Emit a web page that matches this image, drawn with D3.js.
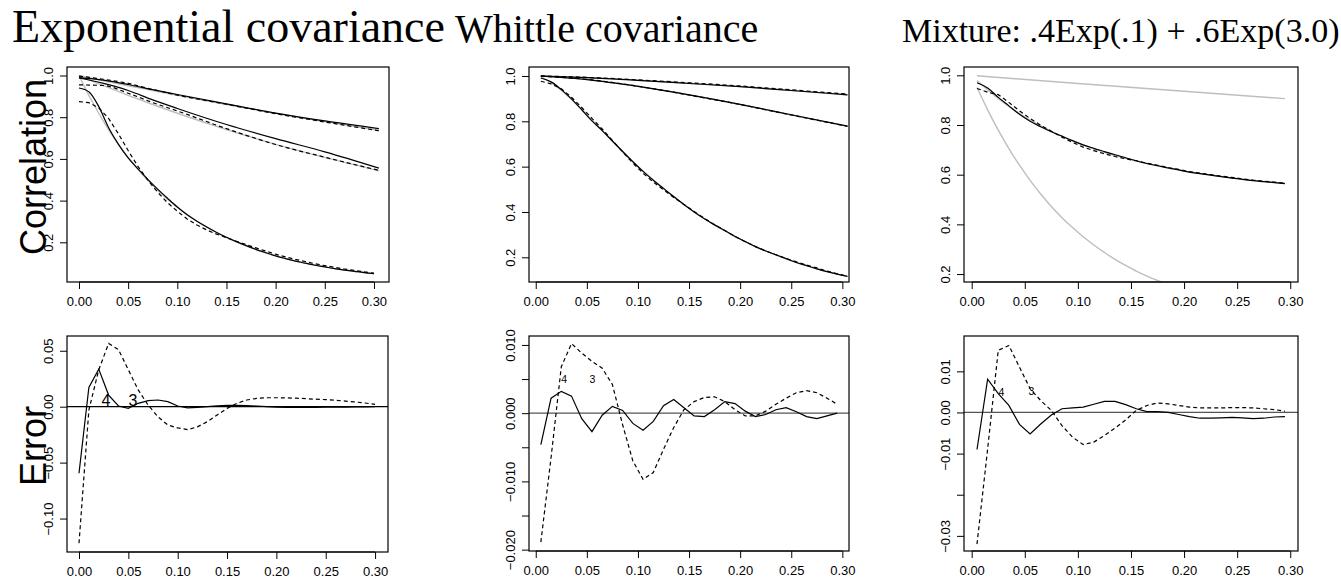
<!DOCTYPE html>
<html>
<head>
<meta charset="utf-8">
<script src="https://cdn.jsdelivr.net/npm/d3@7"></script>
<style>
  body { margin: 0; background: #fff; }
  svg { display: block; }
  .tick text { font-family: "Liberation Sans", Arial, sans-serif; font-size: 13px; fill: #000; }
</style>
</head>
<body>
<svg id="chart" width="1341" height="580"></svg>
<script>
// lag grids
const lagsFine = [0, 0.01, 0.02, 0.03, 0.04, 0.05, 0.06, 0.07, 0.08, 0.09, 0.10, 0.11, 0.12, 0.13, 0.14, 0.15,
                  0.16, 0.17, 0.18, 0.19, 0.20, 0.21, 0.22, 0.23, 0.24, 0.25, 0.26, 0.27, 0.28, 0.29, 0.30];
const lagsMid = [0.005, 0.015, 0.025, 0.035, 0.045, 0.055, 0.065, 0.075, 0.085, 0.095, 0.105, 0.115, 0.125, 0.135, 0.145,
                 0.155, 0.165, 0.175, 0.185, 0.195, 0.205, 0.215, 0.225, 0.235, 0.245, 0.255, 0.265, 0.275, 0.285, 0.295];
const lagsWhittle = [0.005, 0.015, 0.025, 0.035, 0.045, 0.055, 0.065, 0.075, 0.085, 0.095, 0.105, 0.115, 0.125, 0.135, 0.145,
                     0.155, 0.165, 0.175, 0.185, 0.195, 0.205, 0.215, 0.225, 0.235, 0.245, 0.255, 0.265, 0.275, 0.285, 0.295, 0.305];
const lagsCoarse = [0, 0.025, 0.05, 0.075, 0.10, 0.15, 0.20, 0.25, 0.305];
const lagsWCoarse = [0.005, 0.05, 0.10, 0.15, 0.20, 0.25, 0.305];
const lagsGrayTop = [0.005, 0.10, 0.20, 0.295];
const lagsGrayLow = [0.005, 0.015, 0.025, 0.035, 0.045, 0.055, 0.065, 0.075, 0.085, 0.095, 0.105, 0.115, 0.125,
                     0.135, 0.145, 0.155, 0.165, 0.175, 0.185];

// exponential covariance (top left)
const expTrue01 = [1, 0.905, 0.819, 0.741, 0.670, 0.607, 0.549, 0.497, 0.449, 0.407, 0.368, 0.333, 0.301, 0.273, 0.247, 0.223,
                   0.202, 0.183, 0.165, 0.150, 0.135, 0.123, 0.111, 0.100, 0.091, 0.082, 0.074, 0.067, 0.061, 0.055, 0.050];
const expFit01 = [0.940, 0.922, 0.852, 0.751, 0.671, 0.605, 0.552, 0.502, 0.455, 0.411, 0.369, 0.332, 0.301, 0.273, 0.247, 0.224,
                  0.203, 0.184, 0.166, 0.150, 0.135, 0.122, 0.110, 0.100, 0.090, 0.082, 0.074, 0.067, 0.061, 0.055, 0.050];
const expEst01 = [0.875, 0.870, 0.845, 0.795, 0.721, 0.640, 0.564, 0.498, 0.440, 0.390, 0.349, 0.312, 0.283, 0.259, 0.239, 0.222,
                  0.205, 0.189, 0.173, 0.158, 0.143, 0.130, 0.118, 0.108, 0.097, 0.088, 0.080, 0.072, 0.065, 0.058, 0.052];
const expTrue1 = [1, 0.975, 0.951, 0.928, 0.905, 0.861, 0.819, 0.779, 0.737];
const expFit1 = [0.990, 0.978, 0.957, 0.932, 0.909, 0.864, 0.820, 0.782, 0.745];
const expEst1 = [0.997, 0.982, 0.962, 0.933, 0.906, 0.862, 0.817, 0.777, 0.735];
const expTrue05 = [1, 0.951, 0.905, 0.861, 0.819, 0.741, 0.670, 0.607, 0.543];
const expFit05 = [0.988, 0.962, 0.928, 0.883, 0.842, 0.765, 0.697, 0.634, 0.556];
const expEst05 = [0.955, 0.952, 0.915, 0.870, 0.830, 0.745, 0.669, 0.608, 0.545];

// whittle covariance (top middle)
const whitTrue01 = [0.996, 0.972, 0.937, 0.896, 0.852, 0.805, 0.759, 0.712, 0.667, 0.623, 0.581, 0.541, 0.503, 0.466, 0.432, 0.400,
                    0.370, 0.342, 0.316, 0.291, 0.269, 0.247, 0.228, 0.210, 0.193, 0.177, 0.163, 0.150, 0.137, 0.126, 0.116];
const whitFit01 = [0.991, 0.974, 0.940, 0.899, 0.851, 0.802, 0.759, 0.713, 0.667, 0.622, 0.579, 0.540, 0.504, 0.468, 0.433, 0.400,
                   0.370, 0.343, 0.318, 0.292, 0.269, 0.247, 0.228, 0.211, 0.194, 0.177, 0.163, 0.149, 0.137, 0.126, 0.116];
const whitEst01 = [0.977, 0.965, 0.944, 0.906, 0.861, 0.813, 0.766, 0.716, 0.665, 0.616, 0.571, 0.532, 0.498, 0.464, 0.433, 0.402,
                   0.372, 0.344, 0.318, 0.292, 0.269, 0.247, 0.228, 0.211, 0.195, 0.180, 0.166, 0.153, 0.139, 0.127, 0.117];
const whitTrue05 = [1.000, 0.985, 0.955, 0.917, 0.874, 0.828, 0.778];
const whitFit05 = [1.000, 0.984, 0.954, 0.917, 0.875, 0.829, 0.779];
const whitEst05 = [0.999, 0.985, 0.955, 0.916, 0.874, 0.828, 0.778];
const whitTrue1 = [1.000, 0.993, 0.981, 0.968, 0.953, 0.936, 0.917];
const whitFit1 = [1.000, 0.993, 0.981, 0.967, 0.953, 0.936, 0.917];
const whitEst1 = [1.000, 0.994, 0.983, 0.970, 0.956, 0.939, 0.920];

// mixture (top right)
const mixGrayTop = [0.998, 0.967, 0.936, 0.906];
const mixGrayLow = [0.951, 0.861, 0.779, 0.705, 0.638, 0.577, 0.522, 0.472, 0.427, 0.387, 0.350, 0.317, 0.287,
                    0.259, 0.235, 0.212, 0.192, 0.174, 0.157];
const mixTrue = [0.979, 0.941, 0.907, 0.875, 0.846, 0.820, 0.796, 0.774, 0.754, 0.736, 0.719, 0.704, 0.690, 0.677, 0.666,
                 0.655, 0.645, 0.636, 0.627, 0.619, 0.611, 0.605, 0.599, 0.593, 0.587, 0.582, 0.577, 0.573, 0.569, 0.565];
const mixFit = [0.970, 0.949, 0.911, 0.877, 0.843, 0.815, 0.793, 0.773, 0.755, 0.737, 0.720, 0.706, 0.693, 0.680, 0.668,
                0.656, 0.645, 0.636, 0.627, 0.619, 0.610, 0.604, 0.598, 0.592, 0.586, 0.581, 0.576, 0.572, 0.568, 0.564];
const mixEst = [0.947, 0.932, 0.922, 0.891, 0.857, 0.826, 0.799, 0.775, 0.751, 0.730, 0.711, 0.697, 0.684, 0.673, 0.664,
                0.656, 0.646, 0.638, 0.629, 0.621, 0.612, 0.606, 0.600, 0.594, 0.589, 0.583, 0.578, 0.574, 0.570, 0.565];

// errors (bottom row)
const errExpFit = [-0.0595, 0.0173, 0.0336, 0.0104, 0.0006, -0.0015, 0.003, 0.0054, 0.006, 0.0045, 0.0006, -0.001, -0.0006, 0.0,
                   0.0008, 0.0012, 0.0012, 0.001, 0.0006, 0.0, -0.0004, -0.0006, -0.0006, -0.0006, -0.0006, -0.0005, -0.0004,
                   -0.0003, -0.0002, -0.0001, 0.0];
const errExpEst = [-0.122, -0.003, 0.033, 0.0565, 0.051, 0.033, 0.015, 0.0015, -0.009, -0.0164, -0.019, -0.0205, -0.018,
                   -0.0134, -0.0074, -0.0015, 0.003, 0.006, 0.0074, 0.008, 0.008, 0.0079, 0.0076, 0.0072, 0.0067, 0.0063,
                   0.0057, 0.005, 0.0042, 0.0033, 0.002];
const errWhitFit = [-0.0046, 0.0022, 0.0032, 0.0025, -0.0008, -0.0027, -0.0003, 0.001, 0.0004, -0.0015, -0.0025, -0.0012,
                    0.0011, 0.002, 0.0008, -0.0004, -0.0005, 0.0005, 0.0017, 0.0014, 0.0003, -0.0005, -0.0002, 0.0005,
                    0.0008, 0.0002, -0.0005, -0.0008, -0.0004, 0.0];
const errWhitEst = [-0.0189, -0.0065, 0.0068, 0.0102, 0.0088, 0.0076, 0.0066, 0.0042, -0.0017, -0.007, -0.0097, -0.0087,
                    -0.0053, -0.0021, 0.0005, 0.0017, 0.0023, 0.0024, 0.0017, 0.0005, -0.0004, -0.0004, 0.0003, 0.0013,
                    0.0022, 0.003, 0.0033, 0.003, 0.0022, 0.0013];
const errMixFit = [-0.009, 0.0081, 0.0046, 0.0017, -0.0029, -0.0052, -0.0028, -0.0006, 0.0009, 0.0011, 0.0013, 0.002, 0.0027,
                   0.0027, 0.0019, 0.0009, 0.0002, 0.0002, 0.0, -0.0005, -0.001, -0.0014, -0.0014, -0.0013, -0.0012, -0.0013,
                   -0.0015, -0.0014, -0.0011, -0.001];
const errMixEst = [-0.032, -0.0089, 0.0151, 0.0163, 0.011, 0.0058, 0.0029, 0.0005, -0.0032, -0.006, -0.0078, -0.0072, -0.0056,
                   -0.0038, -0.0018, 0.0005, 0.0017, 0.0023, 0.0021, 0.0017, 0.0013, 0.0011, 0.0011, 0.0011, 0.0012, 0.0012,
                   0.0011, 0.0009, 0.0007, 0.0003];

// tick values
const xTicks = [0, 0.05, 0.10, 0.15, 0.20, 0.25, 0.30];
const corTicks = [0.2, 0.4, 0.6, 0.8, 1.0];
const errExpTicks = [-0.10, -0.05, 0.00, 0.05];
const errWhitTicks = [-0.020, -0.015, -0.010, -0.005, 0.000, 0.005, 0.010];
const errWhitLabels = [-0.020, -0.010, 0.000, 0.010];
const errMixTicks = [-0.03, -0.02, -0.01, 0.00, 0.01];
const errMixLabels = [-0.03, -0.01, 0.00, 0.01];

const titles = ["Exponential covariance", "Whittle covariance", "Mixture: .4Exp(.1) + .6Exp(3.0)"];

const svg = d3.select("#chart");

function fmt(d, digits) {
    return d.toFixed(digits).replace("-", "\u2212");
}

function drawPanel(p, idx) {
    const x = d3.scaleLinear().domain(p.xDomain).range([p.left, p.right]);
    const y = d3.scaleLinear().domain(p.yDomain).range([p.bottom, p.top]);

    const g = svg.append("g");

    g.append("clipPath").attr("id", "clip" + idx)
        .append("rect")
        .attr("x", p.left).attr("y", p.top)
        .attr("width", p.right - p.left).attr("height", p.bottom - p.top);

    const plot = g.append("g").attr("clip-path", "url(#clip" + idx + ")");

    if (p.zero) {
        plot.append("line")
            .attr("x1", p.left).attr("x2", p.right)
            .attr("y1", y(0)).attr("y2", y(0))
            .attr("stroke", p.zero).attr("stroke-width", 1.2);
    }

    p.series.forEach(s => {
        const pts = s.x.map((v, i) => [v, s.y[i]]);
        const line = d3.line()
            .x(d => x(d[0]))
            .y(d => y(d[1]))
            .curve(s.smooth ? d3.curveMonotoneX : d3.curveLinear);
        plot.append("path")
            .datum(pts)
            .attr("d", line)
            .attr("fill", "none")
            .attr("stroke", s.kind === "gray" ? "#bebebe" : "#000")
            .attr("stroke-width", s.kind === "gray" ? 1.4 : 1.2)
            .attr("stroke-dasharray", s.kind === "dashed" ? "4,3" : null);
    });

    (p.labels || []).forEach(l => {
        g.append("text")
            .attr("x", x(l.x)).attr("y", y(l.y))
            .attr("text-anchor", "middle")
            .attr("dominant-baseline", "central")
            .attr("font-family", "Liberation Sans, Arial, sans-serif")
            .attr("font-size", p.labelSize)
            .text(l.t);
    });

    // x axis, R style
    const xa = g.append("g")
        .attr("transform", "translate(0," + p.bottom + ")")
        .call(d3.axisBottom(x).tickValues(xTicks).tickSize(7).tickFormat(d => d.toFixed(2)));
    xa.select(".domain").remove();
    xa.selectAll(".tick line").attr("stroke", "#000");
    xa.selectAll(".tick text").attr("y", 24).attr("dy", 0);
    xa.append("line")
        .attr("x1", x(xTicks[0])).attr("x2", x(xTicks[xTicks.length - 1]))
        .attr("stroke", "#000");

    const ya = g.append("g")
        .attr("transform", "translate(" + p.left + ",0)")
        .call(d3.axisLeft(y).tickValues(p.yTicks).tickSize(7)
            .tickFormat(d => p.yLabels.some(v => Math.abs(v - d) < 1e-9) ? fmt(d, p.yDigits) : ""));
    ya.select(".domain").remove();
    ya.selectAll(".tick line").attr("stroke", "#000");
    ya.selectAll(".tick text")
        .attr("transform", "rotate(-90)")
        .attr("x", 0).attr("y", -14).attr("dy", 0)
        .attr("text-anchor", "middle");

    g.append("rect")
        .attr("x", p.left).attr("y", p.top)
        .attr("width", p.right - p.left).attr("height", p.bottom - p.top)
        .attr("fill", "none").attr("stroke", "#000").attr("stroke-width", 1.2);
}

const panels = [
    {
        left: 67, right: 389, top: 67, bottom: 282,
        xDomain: [-0.0122, 0.3153], yDomain: [0.0096, 1.0408],
        yTicks: corTicks, yLabels: corTicks, yDigits: 1,
        series: [
            { x: lagsFine, y: expTrue01, kind: "gray" },
            { x: lagsCoarse, y: expTrue1, kind: "gray", smooth: true },
            { x: lagsCoarse, y: expTrue05, kind: "gray", smooth: true },
            { x: lagsFine, y: expFit01, kind: "solid", smooth: true },
            { x: lagsCoarse, y: expFit1, kind: "solid", smooth: true },
            { x: lagsCoarse, y: expFit05, kind: "solid", smooth: true },
            { x: lagsFine, y: expEst01, kind: "dashed" },
            { x: lagsCoarse, y: expEst1, kind: "dashed", smooth: true },
            { x: lagsCoarse, y: expEst05, kind: "dashed", smooth: true }
        ]
    },
    {
        left: 529, right: 849, top: 67, bottom: 282,
        xDomain: [-0.0066, 0.3065], yDomain: [0.091, 1.0397],
        yTicks: corTicks, yLabels: corTicks, yDigits: 1,
        series: [
            { x: lagsWhittle, y: whitTrue01, kind: "gray" },
            { x: lagsWCoarse, y: whitTrue05, kind: "gray", smooth: true },
            { x: lagsWCoarse, y: whitTrue1, kind: "gray", smooth: true },
            { x: lagsWhittle, y: whitFit01, kind: "solid", smooth: true },
            { x: lagsWCoarse, y: whitFit05, kind: "solid", smooth: true },
            { x: lagsWCoarse, y: whitFit1, kind: "solid", smooth: true },
            { x: lagsWhittle, y: whitEst01, kind: "dashed" },
            { x: lagsWCoarse, y: whitEst05, kind: "dashed", smooth: true },
            { x: lagsWCoarse, y: whitEst1, kind: "dashed", smooth: true }
        ]
    },
    {
        left: 964, right: 1298, top: 67, bottom: 282,
        xDomain: [-0.00725, 0.3073], yDomain: [0.168, 1.0334],
        yTicks: corTicks, yLabels: corTicks, yDigits: 1,
        series: [
            { x: lagsGrayTop, y: mixGrayTop, kind: "gray" },
            { x: lagsGrayLow, y: mixGrayLow, kind: "gray", smooth: true },
            { x: lagsMid, y: mixTrue, kind: "gray" },
            { x: lagsMid, y: mixFit, kind: "solid", smooth: true },
            { x: lagsMid, y: mixEst, kind: "dashed" }
        ]
    },
    {
        left: 67, right: 388, top: 336, bottom: 552,
        xDomain: [-0.01216, 0.3131], yDomain: [-0.1299, 0.0632],
        yTicks: errExpTicks, yLabels: errExpTicks, yDigits: 2,
        zero: "#000", labelSize: 16,
        labels: [{ x: 0.0274, y: 0.0055, t: "4" }, { x: 0.0547, y: 0.0055, t: "3" }],
        series: [
            { x: lagsFine, y: errExpFit, kind: "solid" },
            { x: lagsFine, y: errExpEst, kind: "dashed" }
        ]
    },
    {
        left: 529, right: 849, top: 336, bottom: 551,
        xDomain: [-0.0066, 0.3065], yDomain: [-0.0202, 0.01131],
        yTicks: errWhitTicks, yLabels: errWhitLabels, yDigits: 3,
        zero: "#555", labelSize: 10.5,
        labels: [{ x: 0.0277, y: 0.005, t: "4" }, { x: 0.0554, y: 0.005, t: "3" }],
        series: [
            { x: lagsMid, y: errWhitFit, kind: "solid" },
            { x: lagsMid, y: errWhitEst, kind: "dashed" }
        ]
    },
    {
        left: 964, right: 1298, top: 336, bottom: 551,
        xDomain: [-0.00725, 0.3073], yDomain: [-0.03368, 0.01859],
        yTicks: errMixTicks, yLabels: errMixLabels, yDigits: 2,
        zero: "#555", labelSize: 10.5,
        labels: [{ x: 0.028, y: 0.005, t: "4" }, { x: 0.0562, y: 0.0052, t: "3" }],
        series: [
            { x: lagsMid, y: errMixFit, kind: "solid" },
            { x: lagsMid, y: errMixEst, kind: "dashed" }
        ]
    }
];

panels.forEach((p, i) => drawPanel(p, i));

// titles
const titlePos = [{ x: 12, size: 46 }, { x: 455, size: 40 }, { x: 902, size: 34 }];
titles.forEach((t, i) => {
    svg.append("text")
        .attr("x", titlePos[i].x).attr("y", 42)
        .attr("font-family", "Liberation Serif, Times New Roman, serif")
        .attr("font-size", titlePos[i].size)
        .text(t);
});

// row labels
[{ t: "Correlation", y: 167 }, { t: "Error", y: 446 }].forEach(l => {
    svg.append("text")
        .attr("transform", "translate(46," + l.y + ") rotate(-90)")
        .attr("text-anchor", "middle")
        .attr("font-family", "Liberation Sans, Arial, sans-serif")
        .attr("font-size", 36)
        .text(l.t);
});
</script>
</body>
</html>
